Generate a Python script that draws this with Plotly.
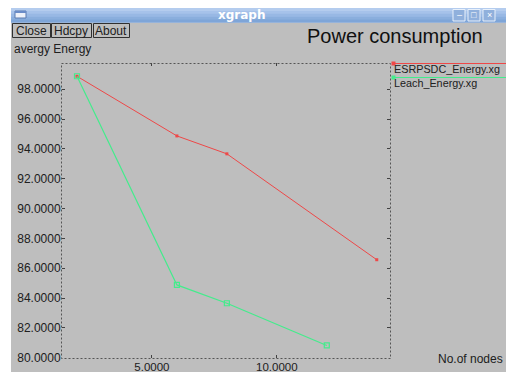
import plotly.graph_objects as go

# ---- data ----
series_names = ["ESRPSDC_Energy.xg", "Leach_Energy.xg"]
esrpsdc_x = [2, 6, 8, 14]
esrpsdc_y = [98.87, 94.87, 93.67, 86.57]
leach_x = [2, 6, 8, 12]
leach_y = [98.87, 84.88, 83.65, 80.82]
series_colors = ["#ee4848", "#44ec8c"]

title_text = "Power consumption"
y_label = "avergy Energy"
x_label = "No.of nodes"
buttons = ["Close", "Hdcpy", "About"]

W, H = 506, 372
L, R, T, B = 62, 116, 63, 14
PW, PH = W - L - R, H - T - B

def px(x):
    return (x - L) / PW

def py(y):
    return (H - B - y) / PH

FONT = "Liberation Sans, Arial, sans-serif"
BG = "#bebebe"

fig = go.Figure()

fig.add_trace(go.Scatter(x=esrpsdc_x, y=esrpsdc_y, mode="lines+markers",
                         line=dict(color=series_colors[0], width=1),
                         marker=dict(symbol="square", size=3, color=series_colors[0]),
                         name=series_names[0], showlegend=False))
fig.add_trace(go.Scatter(x=leach_x, y=leach_y, mode="lines+markers",
                         line=dict(color=series_colors[1], width=1.2),
                         marker=dict(symbol="square-open", size=5, color=series_colors[1],
                                     line=dict(width=1.2, color=series_colors[1])),
                         name=series_names[1], showlegend=False))

shapes = []
annotations = []

def rect(x0, y0, x1, y1, fill=None, line=None, lw=0, layer="below", dash=None):
    d = dict(type="rect", xref="paper", yref="paper",
             x0=px(x0), x1=px(x1), y0=py(y0), y1=py(y1), layer=layer,
             line=dict(width=lw, color=line or "rgba(0,0,0,0)"))
    if dash:
        d["line"]["dash"] = dash
    if fill:
        d["fillcolor"] = fill
    shapes.append(d)

def text(x, y, s, size=12, color="#202020", xanchor="left", family=FONT):
    annotations.append(dict(xref="paper", yref="paper", x=px(x), y=py(y), text=s,
                            showarrow=False, xanchor=xanchor, yanchor="middle",
                            font=dict(size=size, color=color, family=family)))

# window background pieces
rect(0, 0, W, H, fill="#ffffff")
rect(11, 22.5, W, H, fill=BG)
# title bar gradient
tb = ["#b4ccee", "#a6c2ea", "#98b8e4", "#8aaedd", "#7ea5d8"]
for i, c in enumerate(tb):
    rect(11, 8 + i * 2.9, W, 8 + (i + 1) * 2.9 + 0.3, fill=c)
# window icon
rect(15, 11, 26, 18, fill="#eef2fa", line="#5a7bb0", lw=1)
rect(15, 11, 26, 13, fill="#6a8cc8")
# window buttons
for x0, g in [(453, "–"), (468, "□"), (483, "×")]:
    rect(x0, 9.5, x0 + 12, 21, fill="#90b0dc", line="#e8f0fa", lw=1)
    text(x0 + 6, 15.5, g, size=9, color="#ffffff", xanchor="center")
text(241, 15, "<b>xgraph</b>", size=12, color="#ffffff", xanchor="center",
     family="DejaVu Sans, sans-serif")

# buttons
bx = [(12, 50), (51, 91), (93, 129)]
for (x0, x1), lab in zip(bx, buttons):
    rect(x0 + 0.5, 23.5, x1 + 0.5, 37.5, fill=BG, line="#303030", lw=1)
    text((x0 + x1) / 2, 30.5, lab, size=12, xanchor="center")

text(12, 48.5, y_label, size=12)
text(395, 36.5, title_text, size=20, color="#101010", xanchor="center")
text(505, 359, x_label, size=12, xanchor="right")

# plot box dotted border
rect(L - 0.5, T + 0.5, L + PW + 0.5, T + PH + 0.5, line="#555555", lw=1,
     layer="above", dash="2px,2px")

# legend
legend_rows = [(63.5, 69), (77.5, 83)]
for (ly, ty), name, col in zip(legend_rows, series_names, series_colors):
    shapes.append(dict(type="line", xref="paper", yref="paper",
                       x0=px(393), x1=px(506), y0=py(ly), y1=py(ly),
                       line=dict(color=col, width=1)))
    rect(391.5, ly - 2, 395.5, ly + 2, fill=col)
    text(392, ty, name, size=10.8)

fig.update_layout(
    width=W, height=H,
    margin=dict(l=L, r=R, t=T, b=B, pad=0, autoexpand=False),
    paper_bgcolor="#ffffff", plot_bgcolor=BG,
    shapes=shapes, annotations=annotations,
    showlegend=False,
    font=dict(family=FONT, size=12, color="#202020"),
)
fig.update_xaxes(range=[1.4, 14.53], tickmode="linear", tick0=0, dtick=5,
                 tickformat=".4f", ticks="inside", ticklen=3, tickcolor="#404040",
                 showgrid=False, zeroline=False, showline=True, linecolor=BG,
                 mirror="ticks", automargin=False, ticklabelstandoff=-2,
                 tickfont=dict(size=11.5, color="#202020"))
fig.update_yaxes(range=[79.98, 99.76], tickmode="linear", tick0=80, dtick=2,
                 tickformat=".4f", ticks="inside", ticklen=3, tickcolor="#404040",
                 showgrid=False, zeroline=False, showline=True, linecolor=BG,
                 mirror="ticks", automargin=False, ticklabelstandoff=-2,
                 tickfont=dict(size=12, color="#202020"))

fig.write_html("out.html", config={"displayModeBar": False},
               post_script="document.body.style.margin='0';document.body.style.overflow='hidden';")
